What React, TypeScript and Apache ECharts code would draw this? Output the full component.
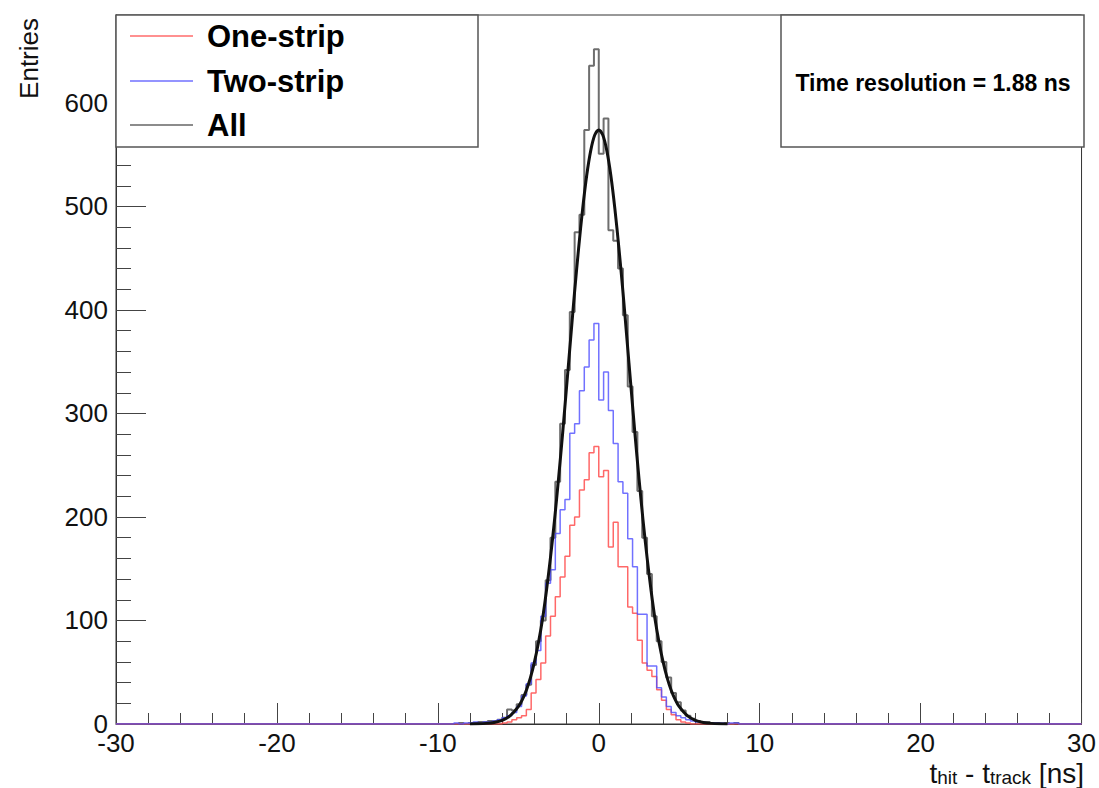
import React, { useEffect, useRef } from "react";
import * as echarts from "echarts";

// Histogram binning: 200 bins of 0.3 ns between -30 and 30 ns
const X_MIN = -30;
const X_MAX = 30;
const BIN_WIDTH = 0.3;
const N_BINS = 200;
// the listed counts start at the bin whose left edge is -9.0 ns
const FIRST_LISTED_EDGE = -9.0;

const oneStrip = [
  0, 0, 0, 0, 0, 0, 0, 0, 0, 0,
  1, 2, 4, 6, 8, 14, 30, 43, 59, 85,
  104, 123, 142, 162, 192, 200, 226, 236, 262, 268,
  239, 245, 171, 195, 152, 152, 113, 107, 81, 59,
  52, 46, 33, 23, 14, 9, 4, 2, 1, 0,
  0, 0, 0, 0, 0, 0, 0, 0, 0, 0,
];

const twoStrip = [
  1, 0, 1, 1, 2, 1, 2, 2, 3, 4,
  6, 8, 11, 17, 27, 39, 59, 71, 104, 136,
  149, 184, 207, 217, 281, 290, 322, 345, 371, 387,
  313, 340, 303, 271, 234, 223, 179, 152, 106, 106,
  56, 56, 35, 26, 17, 11, 8, 6, 4, 3,
  2, 2, 1, 1, 1, 1, 0, 1, 1, 0,
];

const allHits = [
  0, 1, 0, 1, 1, 2, 2, 3, 3, 4,
  6, 14, 13, 19, 28, 38, 57, 80, 100, 139,
  180, 234, 290, 342, 398, 475, 492, 574, 636, 652,
  551, 585, 477, 467, 440, 395, 326, 282, 225, 180,
  145, 104, 80, 60, 45, 30, 21, 13, 8, 5,
  3, 2, 2, 1, 1, 0, 1, 0, 1, 0,
];

// Gaussian fit curve, sampled (sigma = 1.88 ns)
const fitX = [
  -8, -7.5, -7, -6.5, -6, -5.5, -5, -4.75, -4.5, -4.25, -4, -3.75, -3.5, -3.25,
  -3, -2.75, -2.5, -2.25, -2, -1.75, -1.5, -1.25, -1, -0.75, -0.5, -0.25, 0,
  0.25, 0.5, 0.75, 1, 1.25, 1.5, 1.75, 2, 2.25, 2.5, 2.75, 3, 3.25, 3.5, 3.75,
  4, 4.25, 4.5, 4.75, 5, 5.5, 6, 6.5, 7, 7.5, 8,
];
const fitY = [
  0.1, 0.2, 0.6, 1.5, 3.5, 8.0, 16.7, 23.6, 32.7, 44.6, 59.7, 78.5, 101, 129,
  161, 197, 237, 280, 326, 372, 418, 460, 498, 530, 554, 569, 574,
  569, 554, 530, 498, 460, 418, 372, 326, 280, 237, 197, 161, 129, 101, 78.5,
  59.7, 44.6, 32.7, 23.6, 16.7, 8.0, 3.5, 1.5, 0.6, 0.2, 0.1,
];

const legendLabels = ["One-strip", "Two-strip", "All"];
const legendColors = ["#ff6b6b", "#7070ff", "#666666"];
const resolutionText = "Time resolution = 1.88 ns";

const FONT = "'Liberation Sans', Arial, Helvetica, sans-serif";

function stepData(counts: number[]): number[][] {
  const full = new Array(N_BINS).fill(0);
  const offset = Math.round((FIRST_LISTED_EDGE - X_MIN) / BIN_WIDTH);
  counts.forEach((c, i) => {
    full[offset + i] = c;
  });
  const pts = full.map((c, i) => [+(X_MIN + i * BIN_WIDTH).toFixed(3), c]);
  pts.push([X_MAX, full[N_BINS - 1]]);
  return pts;
}

export default function App() {
  const ref = useRef<HTMLDivElement>(null);

  useEffect(() => {
    if (!ref.current) return;
    const chart = echarts.init(ref.current, undefined, { renderer: "svg" });

    const histSeries = (name: string, data: number[], color: string, width: number, opacity: number, z: number) => ({
      name,
      type: "line",
      step: "end",
      data: stepData(data),
      symbol: "none",
      lineStyle: { color, width, opacity },
      z,
      silent: true,
    });

    const legendY = [36, 81, 125];

    const option: any = {
      animation: false,
      backgroundColor: "#ffffff",
      textStyle: { fontFamily: FONT },
      grid: {
        left: 116,
        right: 15,
        top: 15,
        bottom: 64,
        show: true,
        borderColor: "#333333",
        borderWidth: 1,
        backgroundColor: "#ffffff",
      },
      xAxis: [
        {
          type: "value",
          min: X_MIN,
          max: X_MAX,
          interval: 10,
          axisLine: { show: true, onZero: false, lineStyle: { color: "#333333", width: 1 } },
          axisTick: { show: true, inside: true, length: 21, lineStyle: { color: "#444444", width: 1 } },
          minorTick: { show: true, splitNumber: 5, length: 11, lineStyle: { color: "#444444", width: 1 } },
          axisLabel: { fontSize: 26, color: "#111111", margin: 6, fontFamily: FONT },
          splitLine: { show: false },
        },
      ],
      yAxis: [
        {
          type: "value",
          min: 0,
          max: 685,
          interval: 100,
          position: "left",
          axisLine: { show: true, onZero: false, lineStyle: { color: "#333333", width: 1 } },
          axisTick: { show: true, inside: true, length: 30, lineStyle: { color: "#444444", width: 1 } },
          axisLabel: { fontSize: 26, color: "#111111", margin: 8, showMaxLabel: false, fontFamily: FONT },
          splitLine: { show: false },
        },
        {
          type: "value",
          min: 0,
          max: 685,
          interval: 20,
          position: "left",
          axisLine: { show: false, onZero: false },
          axisTick: { show: true, inside: true, length: 15, lineStyle: { color: "#444444", width: 1 } },
          axisLabel: { show: false },
          splitLine: { show: false },
        },
      ],
      series: [
        histSeries("All", allHits, "#555555", 2, 0.85, 2),
        histSeries("One-strip", oneStrip, "#ff4d4d", 1.5, 0.85, 3),
        histSeries("Two-strip", twoStrip, "#4d4dff", 1.5, 0.8, 4),
        {
          name: "fit",
          type: "line",
          data: fitX.map((x, i) => [x, fitY[i]]),
          smooth: 0.3,
          symbol: "none",
          lineStyle: { color: "#111111", width: 3 },
          z: 5,
          silent: true,
        },
      ],
      graphic: [
        // legend box
        {
          type: "rect",
          shape: { x: 116, y: 15, width: 362, height: 132 },
          style: { fill: "#ffffff", stroke: "#555555", lineWidth: 1.5 },
          z: 100,
        },
        ...legendLabels.flatMap((label, i) => [
          {
            type: "line",
            shape: { x1: 130, y1: legendY[i], x2: 193, y2: legendY[i] },
            style: { stroke: legendColors[i], lineWidth: 1.5 },
            z: 101,
          },
          {
            type: "text",
            x: 207,
            y: legendY[i],
            style: {
              text: label,
              fontSize: 31,
              fontWeight: "bold",
              fontFamily: FONT,
              fill: "#000000",
              verticalAlign: "middle",
              align: "left",
            },
            z: 101,
          },
        ]),
        // resolution box
        {
          type: "rect",
          shape: { x: 781, y: 15, width: 303, height: 132 },
          style: { fill: "#ffffff", stroke: "#555555", lineWidth: 1.5 },
          z: 100,
        },
        {
          type: "text",
          x: 933,
          y: 83,
          style: {
            text: resolutionText,
            fontSize: 23,
            fontWeight: "bold",
            fontFamily: FONT,
            fill: "#000000",
            align: "center",
            verticalAlign: "middle",
          },
          z: 101,
        },
        // y axis title
        {
          type: "text",
          x: 29,
          y: 18,
          rotation: Math.PI / 2,
          style: {
            text: "Entries",
            fontSize: 26,
            fontFamily: FONT,
            fill: "#111111",
            align: "right",
            verticalAlign: "middle",
          },
          z: 101,
        },
        // x axis title
        {
          type: "text",
          x: 1084,
          y: 787,
          style: {
            text: "{m|t}{s|hit}{m| - t}{s|track}{m| [ns]}",
            align: "right",
            verticalAlign: "bottom",
            fill: "#111111",
            fontFamily: FONT,
            rich: {
              m: { fontSize: 28, lineHeight: 28, fontFamily: FONT, fill: "#111111" },
              s: { fontSize: 19, lineHeight: 12, verticalAlign: "bottom", fontFamily: FONT, fill: "#111111" },
            },
          },
          z: 101,
        },
      ],
    };

    chart.setOption(option);
    return () => chart.dispose();
  }, []);

  return (
    <div
      ref={ref}
      style={{ position: "fixed", left: 0, top: 0, width: 1099, height: 788, background: "#ffffff" }}
    />
  );
}
